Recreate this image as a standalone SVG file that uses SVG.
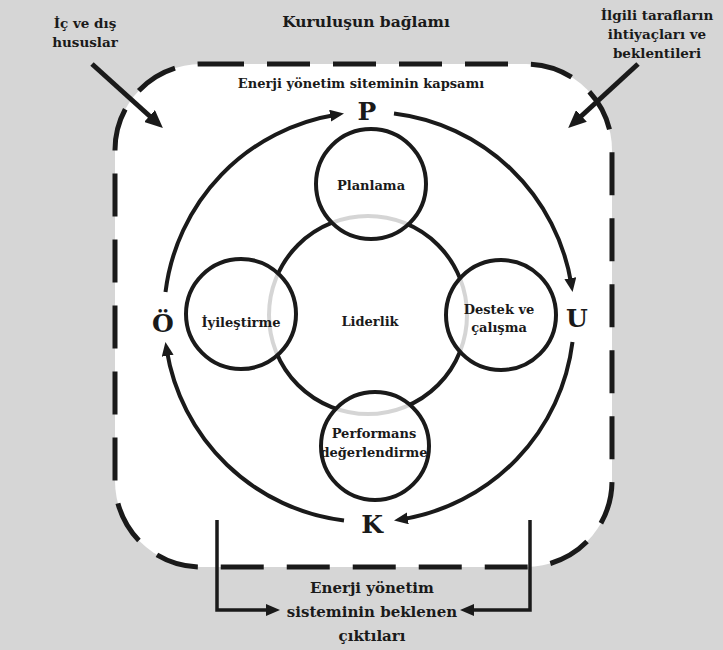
<svg xmlns="http://www.w3.org/2000/svg" width="723" height="650" viewBox="0 0 723 650">
<style>
  text { font-family: "DejaVu Serif", "Liberation Serif", serif; font-weight: bold; fill: #1a1a1a; text-anchor: middle; }
  .big { font-size: 25px; }
  .lbl { font-size: 13px; }
  .ext { font-size: 13.5px; }
  .node { fill: #ffffff; fill-opacity: 0.82; stroke: #1a1a1a; stroke-width: 4; }
  .arc { fill: none; stroke: #1a1a1a; stroke-width: 4; }
  .ln { fill: none; stroke: #1a1a1a; stroke-width: 3.5; }
  .diag { fill: none; stroke: #1a1a1a; stroke-width: 5; }
</style>
<defs>
  <marker id="ah" markerUnits="userSpaceOnUse" viewBox="0 0 14 12" markerWidth="14" markerHeight="12" refX="6" refY="6" orient="auto">
    <path d="M0,0 L14,6 L0,12 z" fill="#1a1a1a"/>
  </marker>
  <marker id="ahBig" markerUnits="userSpaceOnUse" viewBox="0 0 18 16" markerWidth="18" markerHeight="16" refX="6" refY="8" orient="auto">
    <path d="M0,0 L18,8 L0,16 z" fill="#1a1a1a"/>
  </marker>
  <marker id="ahSm" markerUnits="userSpaceOnUse" viewBox="0 0 14 12" markerWidth="14" markerHeight="12" refX="4" refY="6" orient="auto">
    <path d="M0,0 L14,6 L0,12 z" fill="#1a1a1a"/>
  </marker>
</defs>

<rect x="0" y="0" width="723" height="650" fill="#d6d6d6"/>

<g id="frame">
  <rect x="115" y="64" width="497" height="503" rx="86" ry="86" fill="#ffffff" stroke="#1a1a1a" stroke-width="5" stroke-dasharray="43 23"/>
</g>

<g id="titles">
  <text x="366" y="27" style="font-size:15.5px">Kuruluşun bağlamı</text>
  <text x="361" y="88" class="lbl">Enerji yönetim siteminin kapsamı</text>
</g>

<g id="ic-dis">
  <text x="85" y="28" class="ext">İç ve dış</text>
  <text x="85" y="47" class="ext">hususlar</text>
</g>

<g id="ilgili">
  <text x="657" y="20" class="ext">İlgili tarafların</text>
  <text x="657" y="39" class="ext">ihtiyaçları ve</text>
  <text x="657" y="58" class="ext">beklentileri</text>
</g>

<g id="ciktilar">
  <text x="372" y="593" style="font-size:15px">Enerji yönetim</text>
  <text x="372" y="617" style="font-size:15px">sisteminin beklenen</text>
  <text x="372" y="641" style="font-size:15px">çıktıları</text>
</g>

<g id="liderlik">
  <circle cx="368" cy="315" r="99" fill="none" stroke="#1a1a1a" stroke-width="4"/>
  <text x="370" y="326" class="lbl">Liderlik</text>
</g>

<g id="planlama">
  <circle cx="371" cy="184" r="55" class="node"/>
  <text x="371" y="190" class="lbl">Planlama</text>
</g>

<g id="iyilestirme">
  <circle cx="241" cy="314" r="55" class="node"/>
  <text x="241" y="327" class="lbl">İyileştirme</text>
</g>

<g id="destek">
  <circle cx="501" cy="315" r="55" class="node"/>
  <text x="499" y="314" class="lbl">Destek ve</text>
  <text x="499" y="332" class="lbl">çalışma</text>
</g>

<g id="performans">
  <circle cx="375" cy="446" r="54" class="node"/>
  <text x="374" y="438" class="lbl">Performans</text>
  <text x="374" y="457" class="lbl">değerlendirme</text>
</g>

<g id="pukö">
  <text x="367" y="120" class="big">P</text>
  <text x="577" y="327" class="big">U</text>
  <text x="372" y="533" class="big">K</text>
  <text x="163" y="332" class="big">Ö</text>
</g>

<g id="connectors">
  <path class="arc" d="M165.5,292 A205,205 0 0,1 336.1,114.7" marker-end="url(#ah)"/>
  <path class="arc" d="M394,113.5 A205,205 0 0,1 571.3,284.1" marker-end="url(#ah)"/>
  <path class="arc" d="M572.5,342 A205,205 0 0,1 401.9,519.3" marker-end="url(#ah)"/>
  <path class="arc" d="M344,520.5 A205,205 0 0,1 166.7,349.9" marker-end="url(#ah)"/>
  <path class="diag" d="M92,64 L154,120" marker-end="url(#ahBig)"/>
  <path class="diag" d="M638,64 L577,120" marker-end="url(#ahBig)"/>
  <path class="ln" d="M217,520 V610 H270" marker-end="url(#ahSm)"/>
  <path class="ln" d="M530,520 V610 H470" marker-end="url(#ahSm)"/>
</g>
</svg>
